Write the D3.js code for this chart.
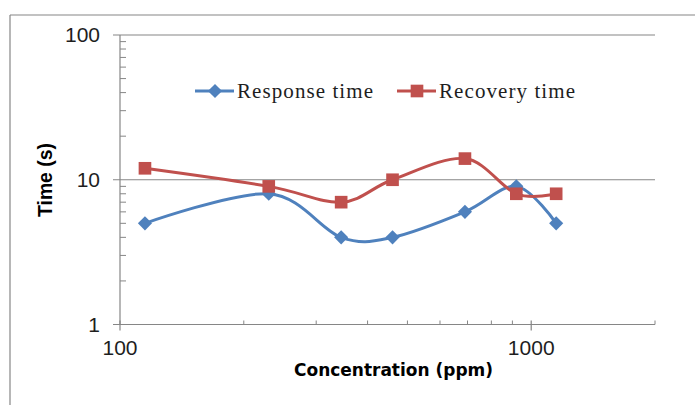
<!DOCTYPE html>
<html>
<head>
<meta charset="utf-8">
<script src="https://cdn.jsdelivr.net/npm/d3@7"></script>
<style>
  html, body { margin: 0; padding: 0; background: #fff; }
  svg { display: block; }
</style>
</head>
<body>
<svg id="chart" width="695" height="405"></svg>
<script>
// Gas concentration (ppm) and the measured sensor times (s)
const concentrations = [115, 230, 345, 460, 690, 920, 1150];
const responseTime = [5, 8, 4, 4, 6, 9, 5];
const recoveryTime = [12, 9, 7, 10, 14, 8, 8];

const seriesNames = ["Response time", "Recovery time"];
const xTickLabels = [100, 1000];
const yTickLabels = [1, 10, 100];

const svg = d3.select("#chart");
const W = 695, H = 405;

const colors = { response: "#4F81BD", recovery: "#C0504D", axis: "#868686", text: "#1e1e1e" };

// Outer chart frame (top and left edges)
svg.append("line").attr("x1", 10).attr("y1", 15).attr("x2", W).attr("y2", 15)
  .attr("stroke", colors.axis).attr("stroke-width", 1.2);
svg.append("line").attr("x1", 10).attr("y1", 15).attr("x2", 10).attr("y2", H)
  .attr("stroke", colors.axis).attr("stroke-width", 1.2);

const x = d3.scaleLog().domain([100, 2000]).range([120, 655]);
const y = d3.scaleLog().domain([1, 100]).range([324.5, 35]);

const g = svg.append("g");

// Horizontal gridlines at each decade
g.selectAll(".grid").data([10, 100]).enter().append("line")
  .attr("x1", 113).attr("x2", 655)
  .attr("y1", d => y(d)).attr("y2", d => y(d))
  .attr("stroke", colors.axis).attr("stroke-width", 1.2);

// Y axis line and ticks
g.append("line").attr("x1", 120).attr("x2", 120).attr("y1", y(100)).attr("y2", y(1))
  .attr("stroke", colors.axis).attr("stroke-width", 1.2);
const yMinor = [];
[1, 10].forEach(dec => { for (let k = 2; k <= 9; k++) yMinor.push(k * dec); });
g.selectAll(".yminor").data(yMinor).enter().append("line")
  .attr("x1", 120).attr("x2", 126)
  .attr("y1", d => y(d)).attr("y2", d => y(d))
  .attr("stroke", colors.axis).attr("stroke-width", 1);

// X axis line and ticks
g.append("line").attr("x1", 113).attr("x2", 655).attr("y1", y(1)).attr("y2", y(1))
  .attr("stroke", colors.axis).attr("stroke-width", 1.2);
const xMinor = [];
for (let k = 2; k <= 9; k++) xMinor.push(k * 100);
xMinor.push(2000);
g.selectAll(".xminor").data(xMinor).enter().append("line")
  .attr("x1", d => x(d)).attr("x2", d => x(d))
  .attr("y1", y(1) - 4).attr("y2", y(1))
  .attr("stroke", colors.axis).attr("stroke-width", 1);
g.selectAll(".xmajor").data(xTickLabels).enter().append("line")
  .attr("x1", d => x(d)).attr("x2", d => x(d))
  .attr("y1", y(1) - 4).attr("y2", y(1) + 6)
  .attr("stroke", colors.axis).attr("stroke-width", 1.2);

// Tick labels
g.selectAll(".ylab").data(yTickLabels).enter().append("text")
  .attr("x", 100).attr("y", d => y(d) + 7)
  .attr("text-anchor", "end")
  .attr("font-family", "Liberation Sans, Arial, sans-serif")
  .attr("font-size", 21).attr("fill", colors.text)
  .text(d => d);
g.selectAll(".xlab").data(xTickLabels).enter().append("text")
  .attr("x", d => x(d)).attr("y", y(1) + 30)
  .attr("text-anchor", "middle")
  .attr("font-family", "Liberation Sans, Arial, sans-serif")
  .attr("font-size", 21).attr("fill", colors.text)
  .text(d => d);

// Axis titles
svg.append("text")
  .attr("transform", "translate(52,180) rotate(-90)")
  .attr("text-anchor", "middle")
  .attr("font-family", "Liberation Sans, Arial, sans-serif")
  .attr("font-weight", "bold").attr("font-size", 19.5).attr("fill", "#000")
  .attr("textLength", 74).attr("lengthAdjust", "spacingAndGlyphs")
  .text("Time (s)");
svg.append("text")
  .attr("x", 393.5).attr("y", 375.5)
  .attr("text-anchor", "middle")
  .attr("font-family", "DejaVu Sans, Verdana, sans-serif")
  .attr("font-weight", "bold").attr("font-size", 17).attr("fill", "#000")
  .attr("textLength", 199).attr("lengthAdjust", "spacingAndGlyphs")
  .text("Concentration (ppm)");

// Smoothed series lines
const line = d3.line()
  .x(d => x(d[0])).y(d => y(d[1]))
  .curve(d3.curveCardinal.tension(0));

const respData = concentrations.map((c, i) => [c, responseTime[i]]);
const recData = concentrations.map((c, i) => [c, recoveryTime[i]]);

const diamond = d3.symbol().type(d3.symbolSquare).size(100);
const square = d3.symbol().type(d3.symbolSquare).size(160);

g.append("path").datum(respData).attr("d", line)
  .attr("fill", "none").attr("stroke", colors.response).attr("stroke-width", 3);
g.selectAll(".respPt").data(respData).enter().append("path")
  .attr("d", diamond)
  .attr("transform", d => `translate(${x(d[0])},${y(d[1])}) rotate(45)`)
  .attr("fill", colors.response);

g.append("path").datum(recData).attr("d", line)
  .attr("fill", "none").attr("stroke", colors.recovery).attr("stroke-width", 3);
g.selectAll(".recPt").data(recData).enter().append("path")
  .attr("d", square)
  .attr("transform", d => `translate(${x(d[0])},${y(d[1])})`)
  .attr("fill", colors.recovery);

// Legend
const legend = svg.append("g");
const legendItems = [
  { name: seriesNames[0], color: colors.response, sym: diamond, rot: 45, x0: 195, textLen: 136 },
  { name: seriesNames[1], color: colors.recovery, sym: square, rot: 0, x0: 397, textLen: 136 }
];
legendItems.forEach(it => {
  const ly = 91;
  legend.append("line").attr("x1", it.x0).attr("x2", it.x0 + 39)
    .attr("y1", ly).attr("y2", ly)
    .attr("stroke", it.color).attr("stroke-width", 3);
  legend.append("path").attr("d", it.sym)
    .attr("transform", `translate(${it.x0 + 20},${ly}) rotate(${it.rot})`)
    .attr("fill", it.color);
  legend.append("text")
    .attr("x", it.x0 + 42).attr("y", ly + 6.5)
    .attr("font-family", "Liberation Serif, Times New Roman, serif")
    .attr("font-size", 21).attr("fill", colors.text)
    .attr("textLength", it.textLen).attr("lengthAdjust", "spacing")
    .text(it.name);
});
</script>
</body>
</html>
